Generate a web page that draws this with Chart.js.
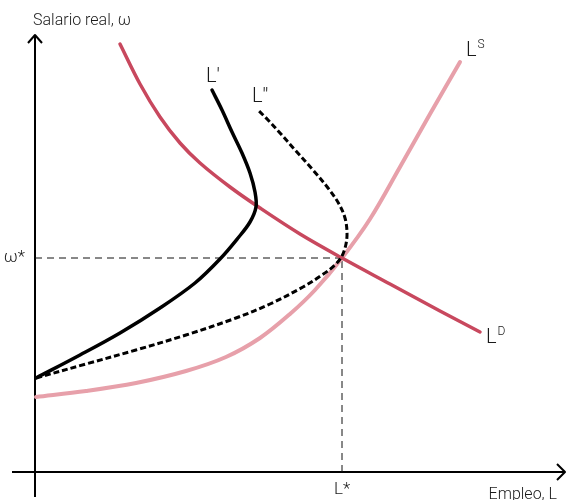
<!DOCTYPE html>
<html>
<head>
<meta charset="utf-8">
<script src="https://cdn.jsdelivr.net/npm/chart.js@4"></script>
<style>
  html, body { margin: 0; padding: 0; background: #fff; }
  #wrap { width: 567px; height: 500px; }
</style>
</head>
<body>
<div id="wrap"><canvas id="laborChart" width="567" height="500"></canvas></div>
<script>
// curves as [employment, real wage] pairs, origin at the axes corner
const demandCurve = [
    [85, 428], [105, 388], [125, 355], [145, 329], [165, 309], [195, 285],
    [225, 264], [265, 238], [307, 214], [355, 188], [405, 161], [445, 140]
];
const supplyCurve = [
    [1, 75], [51, 81], [101, 89], [151, 101], [191, 115], [225, 134],
    [255, 158], [280, 182], [307, 214], [335, 253], [365, 305], [395, 358],
    [425, 410]
];
// backward bending curves L' and L''
const bendCurve1 = [
    [1, 94], [45, 117], [85, 139], [125, 164], [160, 189], [185, 213],
    [203, 234], [215, 250], [221, 265], [220, 280], [215, 299], [207, 319],
    [197, 340], [187, 362], [177, 382]
];
const bendCurve2 = [
    [1, 94], [51, 108], [101, 122], [151, 137], [201, 154], [235, 168],
    [268, 185], [287, 197], [300, 207], [307, 216], [311, 228], [312, 240],
    [310, 254], [304, 268], [293, 284], [278, 302], [261, 321], [245, 339],
    [233, 352], [222, 363]
];
const equilibrium = [307, 214];

const xRange = [-35, 532];
const yRange = [-28, 472];

const toPts = arr => arr.map(p => ({ x: p[0], y: p[1] }));

function lineSet(points, color, width, order, dash) {
    return {
        data: toPts(points),
        showLine: true,
        borderColor: color,
        borderWidth: width,
        borderDash: dash || [],
        pointRadius: 0,
        tension: 0.35,
        fill: false,
        order: order,
        borderCapStyle: 'round',
        borderJoinStyle: 'round'
    };
}

const axisSets = [
    // axes
    lineSet([[0, -25], [0, 437]], '#000', 2, 10),
    lineSet([[-23, 0], [530, 0]], '#000', 2, 10),
    // arrow heads
    lineSet([[-7, 429], [0, 437], [7, 429]], '#000', 2, 10),
    lineSet([[522, 8], [530, 0], [522, -8]], '#000', 2, 10),
    // equilibrium guides
    lineSet([[0, equilibrium[1]], [equilibrium[0], equilibrium[1]]], '#111', 1, 9, [7, 5]),
    lineSet([[equilibrium[0], 0], [equilibrium[0], equilibrium[1]]], '#111', 1, 9, [7, 5])
];
axisSets.forEach(d => { d.tension = 0; d.borderCapStyle = 'butt'; });

const curveSets = [
    lineSet(supplyCurve, 'rgb(231, 160, 170)', 4, 5),
    lineSet(demandCurve, 'rgb(200, 72, 94)', 3.5, 4),
    lineSet(bendCurve2, '#000', 3, 3, [6, 3]),
    lineSet(bendCurve1, '#000', 3.5, 2)
];
curveSets[2].borderCapStyle = 'butt';

const labelFont = (size) => '300 ' + size + 'px Roboto, "Noto Sans", sans-serif';

const labelsPlugin = {
    id: 'labels',
    afterDatasetsDraw(chart) {
        const ctx = chart.ctx;
        const sx = chart.scales.x, sy = chart.scales.y;
        const px = v => sx.getPixelForValue(v);
        const py = v => sy.getPixelForValue(v);
        ctx.save();
        ctx.fillStyle = '#1a1a1a';
        ctx.textBaseline = 'alphabetic';

        // curve name with optional superscript
        function curveLabel(end, dx, dy, main, sup) {
            const x = px(end[0]) + dx, y = py(end[1]) + dy;
            ctx.font = labelFont(20);
            ctx.textAlign = 'left';
            ctx.fillText(main, x, y);
            if (sup) {
                const w = ctx.measureText(main).width;
                ctx.font = labelFont(12);
                ctx.fillText(sup, x + w + 1, y - 8);
            }
        }
        curveLabel(bendCurve1[bendCurve1.length - 1], -6, -8, "L'");
        curveLabel(bendCurve2[bendCurve2.length - 1], -5, -7, "L''");
        curveLabel(supplyCurve[supplyCurve.length - 1], 6, -6, 'L', 'S');
        curveLabel(demandCurve[demandCurve.length - 1], 6, 11, 'L', 'D');

        // axis titles
        ctx.font = labelFont(16);
        ctx.textAlign = 'left';
        ctx.fillText('Salario real, ω', px(0) - 2, py(yRange[1]) + 25);
        ctx.textAlign = 'right';
        ctx.fillText('Empleo, L', px(xRange[1]) - 10, py(0) + 27);

        // equilibrium marks
        ctx.font = labelFont(17);
        ctx.textAlign = 'right';
        ctx.fillText('ω*', px(0) - 10, py(equilibrium[1]) + 4);
        ctx.textAlign = 'center';
        ctx.fillText('L*', px(equilibrium[0]), py(0) + 22);
        ctx.restore();
    }
};

new Chart(document.getElementById('laborChart').getContext('2d'), {
    type: 'scatter',
    data: { datasets: axisSets.concat(curveSets) },
    options: {
        responsive: false,
        animation: false,
        layout: { padding: 0 },
        plugins: {
            legend: { display: false },
            tooltip: { enabled: false }
        },
        scales: {
            x: { type: 'linear', display: false, min: xRange[0], max: xRange[1] },
            y: { type: 'linear', display: false, min: yRange[0], max: yRange[1] }
        }
    },
    plugins: [labelsPlugin]
});
</script>
</body>
</html>
